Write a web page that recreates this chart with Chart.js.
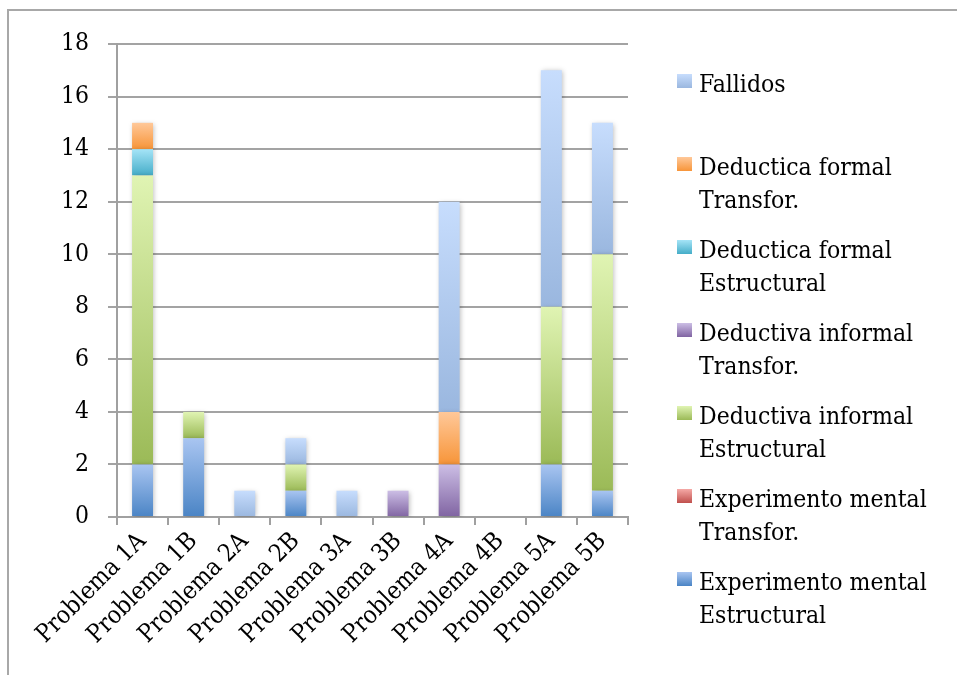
<!DOCTYPE html>
<html>
<head>
<meta charset="utf-8">
<script src="https://cdn.jsdelivr.net/npm/chart.js@4/dist/chart.umd.min.js"></script>
<style>
  html, body { margin: 0; padding: 0; background: #fff; }
  #wrap { position: relative; width: 957px; height: 675px; overflow: hidden; }
  #frame { position: absolute; left: 7px; top: 9px; width: 980px; height: 700px;
           border-left: 2px solid #a8a8a8; border-top: 2px solid #a8a8a8; pointer-events: none; }
  canvas { position: absolute; left: 0; top: 0; }
</style>
</head>
<body>
<div id="wrap">
  <div id="frame"></div>
  <canvas id="c" width="957" height="675"></canvas>
</div>
<script>
// Problems on the x axis
const categories = ['Problema 1A', 'Problema 1B', 'Problema 2A', 'Problema 2B', 'Problema 3A',
                    'Problema 3B', 'Problema 4A', 'Problema 4B', 'Problema 5A', 'Problema 5B'];

// Number of answers per type of reasoning (stacked bottom to top)
const experimentoMentalEstructural = [2, 3, 0, 1, 0, 0, 0, 0, 2, 1];
const experimentoMentalTransfor    = [0, 0, 0, 0, 0, 0, 0, 0, 0, 0];
const deductivaInformalEstructural = [11, 1, 0, 1, 0, 0, 0, 0, 6, 9];
const deductivaInformalTransfor    = [0, 0, 0, 0, 0, 1, 2, 0, 0, 0];
const deducticaFormalEstructural   = [1, 0, 0, 0, 0, 0, 0, 0, 0, 0];
const deducticaFormalTransfor      = [1, 0, 0, 0, 0, 0, 2, 0, 0, 0];
const fallidos                     = [0, 0, 1, 1, 1, 0, 8, 0, 9, 5];

const seriesNames = ['Experimento mental Estructural', 'Experimento mental Transfor.',
                     'Deductiva informal Estructural', 'Deductiva informal Transfor.',
                     'Deductica formal Estructural', 'Deductica formal Transfor.', 'Fallidos'];
const seriesValues = [experimentoMentalEstructural, experimentoMentalTransfor,
                      deductivaInformalEstructural, deductivaInformalTransfor,
                      deducticaFormalEstructural, deducticaFormalTransfor, fallidos];

// y axis ticks
const yTicks = [0, 2, 4, 6, 8, 10, 12, 14, 16, 18];

// light (top) and dark (bottom) colour of each series' gradient
const gradientStops = [
  ['#a9c5f1', '#4a84c5'],
  ['#f5a9a6', '#c0504d'],
  ['#e0f4b3', '#9bba57'],
  ['#ccbee5', '#8064a2'],
  ['#a5e4f7', '#45adc8'],
  ['#ffc899', '#f79539'],
  ['#c7ddfd', '#9ab7df']
];

// Pick a serif face: condensed DejaVu if present, otherwise Liberation Serif,
// sized so that "Experimento mental" is about 229px wide.
const probe = document.createElement('canvas').getContext('2d');
function widthOf(font) { probe.font = font; return probe.measureText('Experimento mental').width; }
const hasCondensed = widthOf('40px "DejaVu Serif Condensed", monospace') !== widthOf('40px monospace');
const FONT = hasCondensed ? 'DejaVu Serif Condensed' : 'Liberation Serif';
const FONT_SIZE = Math.round(40 * 229 / widthOf('40px "' + FONT + '"') * 2) / 2;

function segmentGradient(ctx) {
  const chart = ctx.chart;
  const ds = ctx.datasetIndex, i = ctx.dataIndex;
  const y = chart.scales.y;
  const stops = gradientStops[ds];
  if (!y || i === undefined) return stops[1];
  let start = 0;
  for (let k = 0; k < ds; k++) start += seriesValues[k][i] || 0;
  const end = start + (seriesValues[ds][i] || 0);
  const top = y.getPixelForValue(end), bottom = y.getPixelForValue(start);
  if (!isFinite(top) || !isFinite(bottom) || top === bottom) return stops[1];
  const g = chart.ctx.createLinearGradient(0, top, 0, bottom);
  g.addColorStop(0, stops[0]);
  g.addColorStop(1, stops[1]);
  return g;
}

// soft shadow under the bars
const barShadow = {
  id: 'barShadow',
  beforeDatasetsDraw(chart) {
    const c = chart.ctx;
    c.save();
    c.shadowColor = 'rgba(0,0,0,0.28)';
    c.shadowBlur = 5;
    c.shadowOffsetX = 1;
    c.shadowOffsetY = 1;
  },
  afterDatasetsDraw(chart) { chart.ctx.restore(); }
};

// legend on the right, last series first, names wrapped on two lines
const sideLegend = {
  id: 'sideLegend',
  afterDraw(chart) {
    const c = chart.ctx;
    c.save();
    c.font = FONT_SIZE + 'px "' + FONT + '"';
    c.textAlign = 'left';
    c.textBaseline = 'alphabetic';
    const order = seriesNames.map((_, k) => k).reverse();
    order.forEach((k, row) => {
      const base = 92 + row * 83;
      const name = seriesNames[k];
      const cut = name.lastIndexOf(' ');
      const lines = name.indexOf(' ') < 0 ? [name] : [name.slice(0, cut), name.slice(cut + 1)];
      const g = c.createLinearGradient(0, base - 18, 0, base - 4);
      g.addColorStop(0, gradientStops[k][0]);
      g.addColorStop(1, gradientStops[k][1]);
      c.fillStyle = g;
      c.fillRect(677, base - 18, 15, 14);
      c.fillStyle = '#000';
      lines.forEach((t, j) => c.fillText(t, 699, base + j * 32.5));
    });
    c.restore();
  }
};

new Chart(document.getElementById('c'), {
  type: 'bar',
  data: {
    labels: categories,
    datasets: seriesNames.map((name, k) => ({
      label: name,
      data: seriesValues[k],
      backgroundColor: segmentGradient,
      borderWidth: 0,
      categoryPercentage: 0.82,
      barPercentage: 0.5
    }))
  },
  options: {
    responsive: false,
    animation: false,
    layout: { padding: { left: 0, top: 44, right: 329, bottom: 0 } },
    plugins: { legend: { display: false }, tooltip: { enabled: false } },
    scales: {
      x: {
        stacked: true,
        afterFit(s) { s.height = 158; },
        grid: { display: true, drawOnChartArea: false, drawTicks: true, tickLength: 8,
                color: '#a0a0a0', lineWidth: 2, offset: true },
        border: { color: '#a0a0a0', width: 2 },
        ticks: { color: '#000', font: { family: FONT, size: FONT_SIZE }, minRotation: 45, maxRotation: 45,
                 autoSkip: false, padding: 2 }
      },
      y: {
        stacked: true,
        min: yTicks[0],
        max: yTicks[yTicks.length - 1],
        afterFit(s) { s.width = 117; },
        afterBuildTicks(s) { s.ticks = yTicks.map(v => ({ value: v })); },
        grid: { color: '#a3a3a3', lineWidth: 2, tickLength: 9 },
        border: { color: '#a0a0a0', width: 2 },
        ticks: { color: '#000', font: { family: FONT, size: FONT_SIZE }, padding: 19 }
      }
    }
  },
  plugins: [barShadow, sideLegend]
});
</script>
</body>
</html>
